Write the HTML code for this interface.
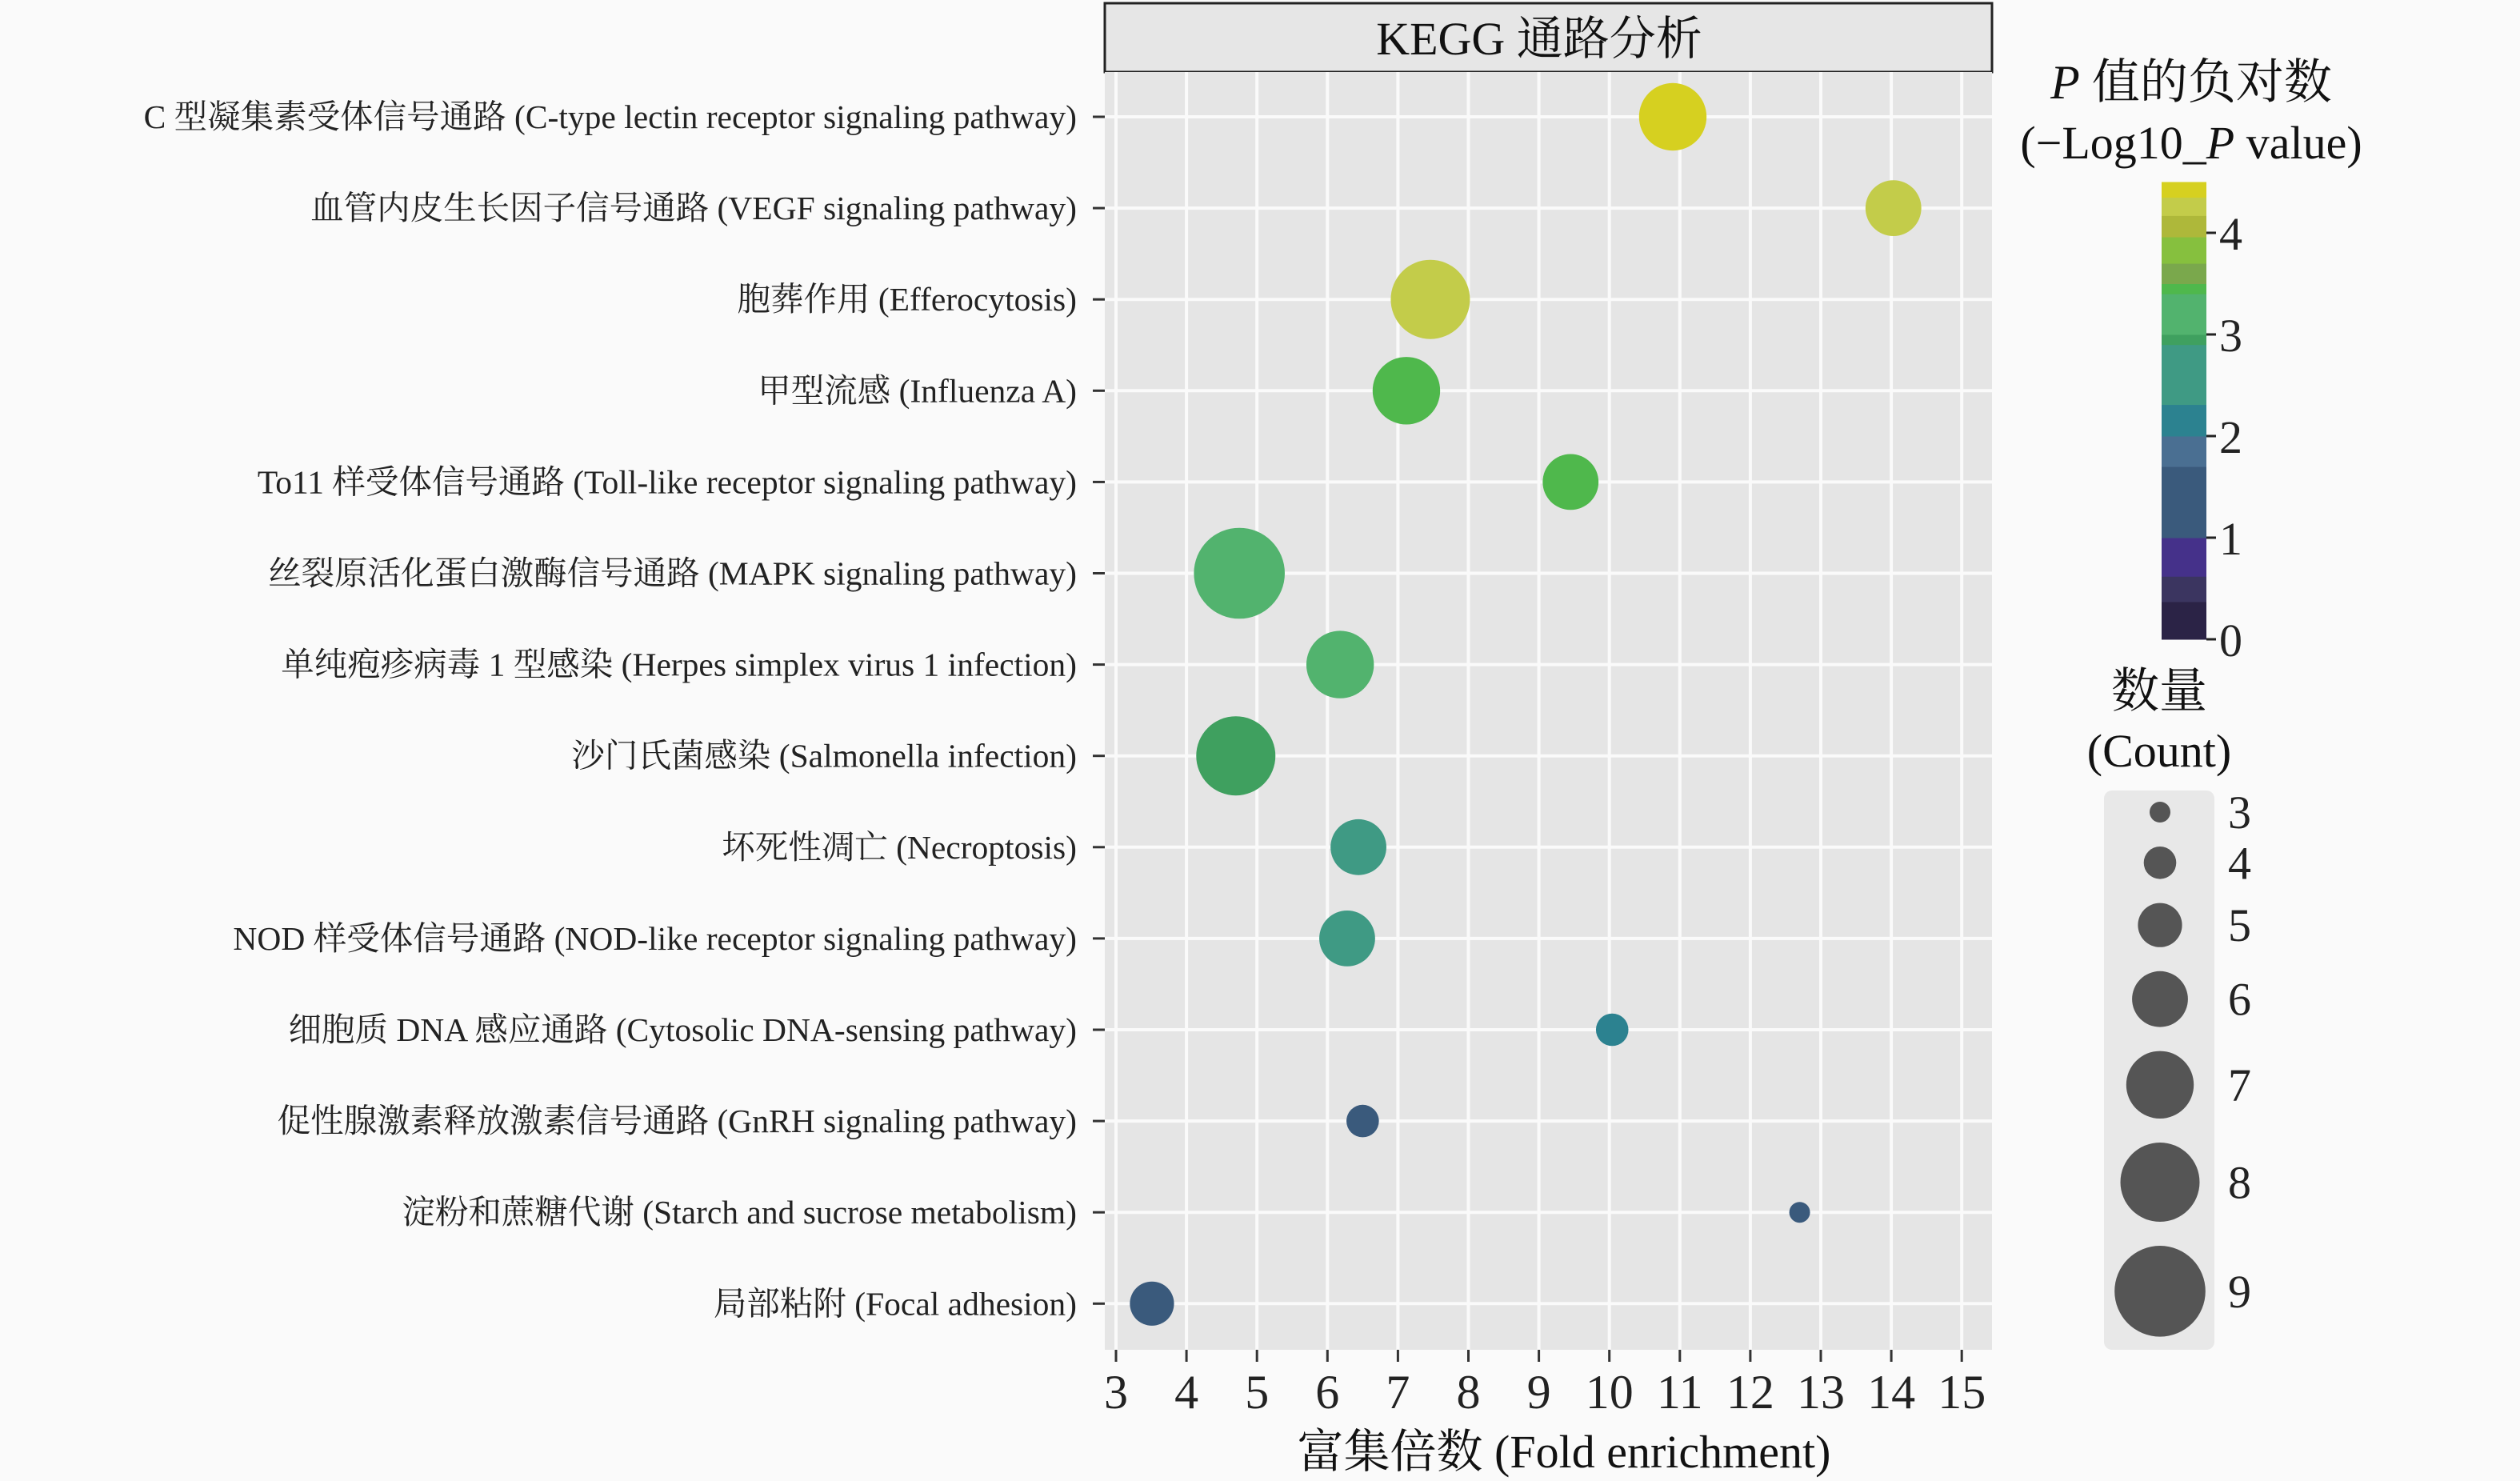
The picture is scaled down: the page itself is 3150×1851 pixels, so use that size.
<!DOCTYPE html>
<html><head><meta charset="utf-8"><style>
html,body{margin:0;padding:0;background:#fafafa;}
svg{display:block;font-family:"Liberation Serif","Noto Serif CJK SC","Noto Sans CJK SC",serif;}
</style></head><body>
<svg id="chart" width="3150" height="1851" viewBox="0 0 3150 1851">
<rect x="0" y="0" width="3150" height="1851" fill="#fafafa"/>
<rect x="1381" y="4" width="1109" height="86" fill="#e6e6e6" stroke="#222" stroke-width="3"/>
<text x="1924" y="68" font-size="58" text-anchor="middle" fill="#111">KEGG 通路分析</text>
<rect x="1381" y="90" width="1109" height="1597" fill="#e5e5e5"/>
<g id="grid"></g>
<g id="yaxis"></g>
<g id="xaxis"></g>
<g id="points"></g>
<text x="1955" y="1834" font-size="58" text-anchor="middle" fill="#111">富集倍数 (Fold enrichment)</text>
<text x="2739" y="123" font-size="60" text-anchor="middle" fill="#111"><tspan font-style="italic">P</tspan> 值的负对数</text>
<text x="2739" y="198" font-size="58" text-anchor="middle" fill="#111">(−Log10_<tspan font-style="italic">P</tspan> value)</text>
<g id="colorbar"></g>
<text x="2699" y="884" font-size="60" text-anchor="middle" fill="#111">数量</text>
<text x="2699" y="958" font-size="58" text-anchor="middle" fill="#111">(Count)</text>
<rect x="2630" y="988" width="138" height="699" rx="10" fill="#e8e8e8"/>
<g id="sizelegend"></g>
</svg>
<script>
const categories = [
 "C 型凝集素受体信号通路 (C-type lectin receptor signaling pathway)",
 "血管内皮生长因子信号通路 (VEGF signaling pathway)",
 "胞葬作用 (Efferocytosis)",
 "甲型流感 (Influenza A)",
 "To11 样受体信号通路 (Toll-like receptor signaling pathway)",
 "丝裂原活化蛋白激酶信号通路 (MAPK signaling pathway)",
 "单纯疱疹病毒 1 型感染 (Herpes simplex virus 1 infection)",
 "沙门氏菌感染 (Salmonella infection)",
 "坏死性凋亡 (Necroptosis)",
 "NOD 样受体信号通路 (NOD-like receptor signaling pathway)",
 "细胞质 DNA 感应通路 (Cytosolic DNA-sensing pathway)",
 "促性腺激素释放激素信号通路 (GnRH signaling pathway)",
 "淀粉和蔗糖代谢 (Starch and sucrose metabolism)",
 "局部粘附 (Focal adhesion)"
];
const foldEnrichment = [10.9, 14.03, 7.46, 7.12, 9.45, 4.75, 6.18, 4.7, 6.44, 6.28, 10.04, 6.5, 12.7, 3.51];
const counts = [7, 6, 8, 7, 6, 9, 7, 8, 6, 6, 4, 4, 3, 5];
const negLog10P = [4.45, 4.2, 4.3, 3.45, 3.45, 3.3, 3.25, 2.9, 2.6, 2.6, 2.2, 1.6, 1.6, 1.2];
const xTicks = [3,4,5,6,7,8,9,10,11,12,13,14,15];
const colorTicks = [0,1,2,3,4];
const sizeTicks = [3,4,5,6,7,8,9];
const colorBins = [[0,"#2b2346"],[0.37,"#3b3560"],[0.62,"#45318a"],[1.0,"#3a5a7c"],[1.7,"#4a6f92"],[2.0,"#2c8290"],[2.31,"#3f9a84"],[2.9,"#3fa05f"],[3.0,"#52b36e"],[3.4,"#4fb84c"],[3.5,"#7aa84c"],[3.7,"#86c03e"],[3.96,"#aeb83a"],[4.17,"#c3cc4a"],[4.35,"#d6d020"]];

const NS="http://www.w3.org/2000/svg";
function mk(tag, attrs, parent){const e=document.createElementNS(NS,tag);for(const k in attrs)e.setAttribute(k,attrs[k]);parent.appendChild(e);return e;}
const xScale = v => 1395 + (v-3)*88.1;
const yScale = i => 146 + i*114.1;
const rScale = c => 13 + 7.3*(c-3);
const cbY = v => 799 - v*127;
function colorOf(v){let c=colorBins[0][1];for(const b of colorBins){if(v>=b[0])c=b[1];}return c;}

const grid=document.getElementById('grid');
xTicks.forEach(t=>{
  const l=mk('line',{x1:xScale(t),x2:xScale(t),y1:90,y2:1687,stroke:'#fafafa','stroke-width':4},grid);
  
  
});
categories.forEach((c,i)=>{
  const l=mk('line',{x1:1381,x2:2490,y1:yScale(i),y2:yScale(i),stroke:'#fafafa','stroke-width':4},grid);
  
  
});
const yaxis=document.getElementById('yaxis');
categories.forEach((c,i)=>{
  const t=mk('text',{x:1346,y:yScale(i)+14,'font-size':41.5,'text-anchor':'end',fill:'#222'},yaxis);
  t.textContent=c;
  
  
  const tk=mk('line',{x1:1366,x2:1381,y1:yScale(i),y2:yScale(i),stroke:'#333','stroke-width':3},yaxis);
  
  
});
const xaxis=document.getElementById('xaxis');
xTicks.forEach(t=>{
  const tk=mk('line',{x1:xScale(t),x2:xScale(t),y1:1687,y2:1702,stroke:'#333','stroke-width':3},xaxis);
  
  
  const tx=mk('text',{x:xScale(t),y:1760,'font-size':60,'text-anchor':'middle',fill:'#222'},xaxis);
  tx.textContent=t;
  
  
});
const pts=document.getElementById('points');
categories.forEach((c,i)=>{
  const ci=mk('circle',{cx:xScale(foldEnrichment[i]),cy:yScale(i),r:rScale(counts[i]),fill:colorOf(negLog10P[i])},pts);
  
  
});
const cb=document.getElementById('colorbar');
colorBins.forEach((b,i)=>{
  const top = i<colorBins.length-1 ? colorBins[i+1][0] : 4.5;
  const r=mk('rect',{x:2702,y:cbY(top),width:56,height:cbY(b[0])-cbY(top)+0.5,fill:b[1]},cb);
  
  
});
colorTicks.forEach(t=>{
  const tk=mk('line',{x1:2758,x2:2770,y1:cbY(t),y2:cbY(t),stroke:'#222','stroke-width':3},cb);
  
  
  const tx=mk('text',{x:2774,y:cbY(t)+21,'font-size':58,fill:'#222'},cb);
  tx.textContent=t;
  
  
});
const sl=document.getElementById('sizelegend');
let cy=1002;
sizeTicks.forEach((s,i)=>{
  const r=rScale(s);
  cy += (i===0? r : rScale(sizeTicks[i-1]) + r + 30);
  const ci=mk('circle',{cx:2700,cy:cy,r:r,fill:'#555'},sl);
  
  
  const tx=mk('text',{x:2785,y:cy+20,'font-size':58,fill:'#222'},sl);
  tx.textContent=s;
  
  
});
</script>
</body></html>
